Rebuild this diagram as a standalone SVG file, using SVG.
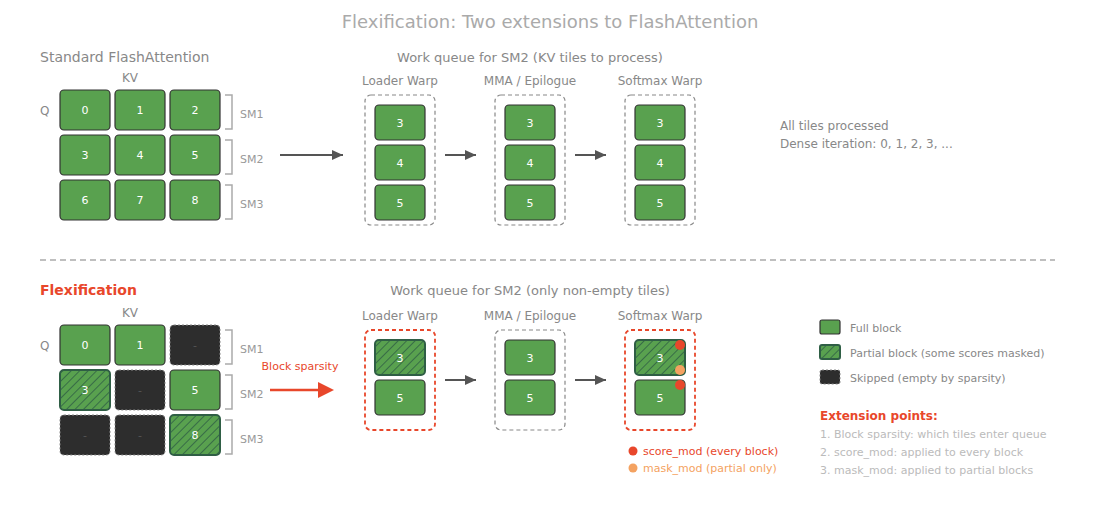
<svg xmlns="http://www.w3.org/2000/svg" width="1100" height="520" viewBox="0 0 1100 520">
<defs>
<pattern id="hatch" width="6" height="6" patternUnits="userSpaceOnUse" patternTransform="rotate(45)">
<rect width="6" height="6" fill="#59a14f"/>
<line x1="0" y1="0" x2="0" y2="6" stroke="#2f5e45" stroke-width="1.6"/>
</pattern>
<marker id="ah" viewBox="0 0 11 10" refX="11" refY="5" markerWidth="11" markerHeight="10" markerUnits="userSpaceOnUse" orient="auto"><path d="M0,0 L11,5 L0,10 z" fill="#555"/></marker>
</defs>
<style>
text{font-family:"DejaVu Sans","Liberation Sans",sans-serif}
.title{font-size:18px;fill:#aaa}
.sec{font-size:14px;fill:#888}
.hdr{font-size:13px;fill:#888}
.lbl{font-size:12px;fill:#888}
.sm{font-size:11px;fill:#999}
.num{font-size:11px;fill:#fff;text-anchor:middle}
.dash{font-size:11px;fill:#555;text-anchor:middle}
.full{fill:#59a14f;stroke:#333;stroke-width:1.2}
.part{fill:url(#hatch);stroke:#2f5e45;stroke-width:2}
.skip{fill:#2d2d2d;stroke:#888;stroke-width:1;stroke-dasharray:2,2}
.qbox{fill:none;stroke:#888;stroke-width:1.2;stroke-dasharray:4,3}
.qred{fill:none;stroke:#e8472b;stroke-width:1.8;stroke-dasharray:4,3}
.br{fill:none;stroke:#aaa;stroke-width:1.5}
.arr{stroke:#555;stroke-width:2;fill:none}
.red{fill:#e8472b}
.leg{font-size:11px;fill:#888}
.ext{font-size:11px;fill:#bbb}
</style>
<rect width="1100" height="520" fill="#fff"/>
<text x="550" y="28" class="title" text-anchor="middle">Flexification: Two extensions to FlashAttention</text>

<!-- Top section -->
<g id="top-grid">
<text x="40" y="62" class="sec">Standard FlashAttention</text>
<text x="130" y="82" class="lbl" text-anchor="middle">KV</text>
<text x="40" y="115" class="lbl">Q</text>
<rect x="60" y="90" width="50" height="40" rx="4" class="full"/><text x="85" y="114" class="num">0</text>
<rect x="115" y="90" width="50" height="40" rx="4" class="full"/><text x="140" y="114" class="num">1</text>
<rect x="170" y="90" width="50" height="40" rx="4" class="full"/><text x="195" y="114" class="num">2</text>
<rect x="60" y="135" width="50" height="40" rx="4" class="full"/><text x="85" y="159" class="num">3</text>
<rect x="115" y="135" width="50" height="40" rx="4" class="full"/><text x="140" y="159" class="num">4</text>
<rect x="170" y="135" width="50" height="40" rx="4" class="full"/><text x="195" y="159" class="num">5</text>
<rect x="60" y="180" width="50" height="40" rx="4" class="full"/><text x="85" y="204" class="num">6</text>
<rect x="115" y="180" width="50" height="40" rx="4" class="full"/><text x="140" y="204" class="num">7</text>
<rect x="170" y="180" width="50" height="40" rx="4" class="full"/><text x="195" y="204" class="num">8</text>
<path d="M225,95 H232 V129 H225" class="br"/><text x="240" y="118" class="sm">SM1</text>
<path d="M225,140 H232 V174 H225" class="br"/><text x="240" y="163" class="sm">SM2</text>
<path d="M225,185 H232 V219 H225" class="br"/><text x="240" y="208" class="sm">SM3</text>
</g>

<g id="top-queue">
<text x="530" y="62" class="hdr" text-anchor="middle">Work queue for SM2 (KV tiles to process)</text>
<text x="400" y="85" class="lbl" text-anchor="middle">Loader Warp</text>
<text x="530" y="85" class="lbl" text-anchor="middle">MMA / Epilogue</text>
<text x="660" y="85" class="lbl" text-anchor="middle">Softmax Warp</text>
<rect x="365" y="95" width="70" height="130" rx="6" class="qbox"/>
<rect x="495" y="95" width="70" height="130" rx="6" class="qbox"/>
<rect x="625" y="95" width="70" height="130" rx="6" class="qbox"/>
<rect x="375" y="105" width="50" height="35" rx="4" class="full"/><text x="400" y="127" class="num">3</text>
<rect x="375" y="145" width="50" height="35" rx="4" class="full"/><text x="400" y="167" class="num">4</text>
<rect x="375" y="185" width="50" height="35" rx="4" class="full"/><text x="400" y="207" class="num">5</text>
<rect x="505" y="105" width="50" height="35" rx="4" class="full"/><text x="530" y="127" class="num">3</text>
<rect x="505" y="145" width="50" height="35" rx="4" class="full"/><text x="530" y="167" class="num">4</text>
<rect x="505" y="185" width="50" height="35" rx="4" class="full"/><text x="530" y="207" class="num">5</text>
<rect x="635" y="105" width="50" height="35" rx="4" class="full"/><text x="660" y="127" class="num">3</text>
<rect x="635" y="145" width="50" height="35" rx="4" class="full"/><text x="660" y="167" class="num">4</text>
<rect x="635" y="185" width="50" height="35" rx="4" class="full"/><text x="660" y="207" class="num">5</text>
</g>

<g id="top-note">
<text x="780" y="130" class="lbl">All tiles processed</text>
<text x="780" y="148" class="lbl">Dense iteration: 0, 1, 2, 3, ...</text>
</g>

<line x1="40" y1="260" x2="1055" y2="260" stroke="#aaa" stroke-width="1.5" stroke-dasharray="6,4"/>

<!-- Bottom section -->
<g id="bottom-grid">
<text x="40" y="295" font-size="14" font-weight="bold" class="red">Flexification</text>
<text x="130" y="317" class="lbl" text-anchor="middle">KV</text>
<text x="40" y="350" class="lbl">Q</text>
<rect x="60" y="325" width="50" height="40" rx="4" class="full"/><text x="85" y="349" class="num">0</text>
<rect x="115" y="325" width="50" height="40" rx="4" class="full"/><text x="140" y="349" class="num">1</text>
<rect x="170" y="325" width="50" height="40" rx="4" class="skip"/><text x="195" y="349" class="dash">-</text>
<rect x="60" y="370" width="50" height="40" rx="4" class="part"/><text x="85" y="394" class="num">3</text>
<rect x="115" y="370" width="50" height="40" rx="4" class="skip"/><text x="140" y="394" class="dash">-</text>
<rect x="170" y="370" width="50" height="40" rx="4" class="full"/><text x="195" y="394" class="num">5</text>
<rect x="60" y="415" width="50" height="40" rx="4" class="skip"/><text x="85" y="439" class="dash">-</text>
<rect x="115" y="415" width="50" height="40" rx="4" class="skip"/><text x="140" y="439" class="dash">-</text>
<rect x="170" y="415" width="50" height="40" rx="4" class="part"/><text x="195" y="439" class="num">8</text>
<path d="M225,330 H232 V364 H225" class="br"/><text x="240" y="353" class="sm">SM1</text>
<path d="M225,375 H232 V409 H225" class="br"/><text x="240" y="398" class="sm">SM2</text>
<path d="M225,420 H232 V454 H225" class="br"/><text x="240" y="443" class="sm">SM3</text>
</g>

<g id="bottom-queue">
<text x="530" y="295" class="hdr" text-anchor="middle">Work queue for SM2 (only non-empty tiles)</text>
<text x="400" y="320" class="lbl" text-anchor="middle">Loader Warp</text>
<text x="530" y="320" class="lbl" text-anchor="middle">MMA / Epilogue</text>
<text x="660" y="320" class="lbl" text-anchor="middle">Softmax Warp</text>
<rect x="365" y="330" width="70" height="100" rx="6" class="qred"/>
<rect x="495" y="330" width="70" height="100" rx="6" class="qbox"/>
<rect x="625" y="330" width="70" height="100" rx="6" class="qred"/>
<rect x="375" y="340" width="50" height="35" rx="4" class="part"/><text x="400" y="362" class="num">3</text>
<rect x="375" y="380" width="50" height="35" rx="4" class="full"/><text x="400" y="402" class="num">5</text>
<rect x="505" y="340" width="50" height="35" rx="4" class="full"/><text x="530" y="362" class="num">3</text>
<rect x="505" y="380" width="50" height="35" rx="4" class="full"/><text x="530" y="402" class="num">5</text>
<rect x="635" y="340" width="50" height="35" rx="4" class="part"/><text x="660" y="362" class="num">3</text>
<rect x="635" y="380" width="50" height="35" rx="4" class="full"/><text x="660" y="402" class="num">5</text>
<circle cx="680" cy="345" r="5" fill="#e8472b"/>
<circle cx="680" cy="370" r="5" fill="#f4a261"/>
<circle cx="680" cy="385" r="5" fill="#e8472b"/>
<circle cx="633" cy="451" r="4.5" fill="#e8472b"/>
<text x="643" y="455" font-size="11" fill="#e8472b">score_mod (every block)</text>
<circle cx="633" cy="468" r="4.5" fill="#f4a261"/>
<text x="643" y="472" font-size="11" fill="#f4a261">mask_mod (partial only)</text>
</g>

<g id="legend">
<rect x="820" y="320" width="20" height="14" rx="2" class="full"/><text x="850" y="332" class="leg">Full block</text>
<rect x="820" y="345" width="20" height="14" rx="2" class="part"/><text x="850" y="357" class="leg">Partial block (some scores masked)</text>
<rect x="820" y="370" width="20" height="14" rx="2" class="skip"/><text x="850" y="382" class="leg">Skipped (empty by sparsity)</text>
<text x="820" y="420" font-size="12" font-weight="bold" class="red">Extension points:</text>
<text x="820" y="438" class="ext">1. Block sparsity: which tiles enter queue</text>
<text x="820" y="456" class="ext">2. score_mod: applied to every block</text>
<text x="820" y="474" class="ext">3. mask_mod: applied to partial blocks</text>
</g>

<g id="connectors">
<line x1="280" y1="155" x2="343" y2="155" class="arr" marker-end="url(#ah)"/>
<line x1="445" y1="155" x2="476" y2="155" class="arr" marker-end="url(#ah)"/>
<line x1="575" y1="155" x2="606" y2="155" class="arr" marker-end="url(#ah)"/>
<line x1="445" y1="380" x2="476" y2="380" class="arr" marker-end="url(#ah)"/>
<line x1="575" y1="380" x2="606" y2="380" class="arr" marker-end="url(#ah)"/>
<text x="300" y="370" font-size="11" fill="#e8472b" text-anchor="middle">Block sparsity</text>
<line x1="270" y1="390" x2="320" y2="390" stroke="#e8472b" stroke-width="2.5"/>
<path d="M318,382 L334,390 L318,398 z" fill="#e8472b"/>
</g>
</svg>
